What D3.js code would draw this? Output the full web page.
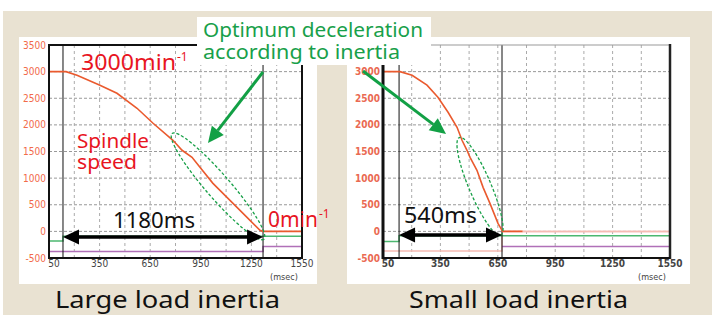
<!DOCTYPE html>
<html>
<head>
<meta charset="utf-8">
<script src="https://cdn.jsdelivr.net/npm/d3@7"></script>
<style>
  body { margin: 0; background: #fff; }
  svg { display: block; }
</style>
</head>
<body>
<svg id="chart" width="712" height="315"></svg>
<script>
// ---- data ----
var yTicks = [-500, 0, 500, 1000, 1500, 2000, 2500, 3000, 3500];
var xTicks = [50, 350, 650, 950, 1250, 1550];
var xGrid = [200, 350, 500, 650, 800, 950, 1100, 1250, 1400];

// spindle speed, large load inertia (ms, min-1)
var largeMs  = [50, 151, 216, 352, 453, 572, 667, 785, 839, 898, 945, 1022, 1141, 1224, 1301, 1319, 1550];
var largeRpm = [3000, 3000, 2930, 2745, 2594, 2312, 2030, 1710, 1523, 1390, 1203, 902, 526, 263, 19, 0, 0];
// spindle speed, small load inertia
var smallMs  = [50, 139, 202, 280, 337, 390, 437, 463, 489, 505, 541, 573, 609, 651, 672, 677, 780];
var smallRpm = [3000, 3000, 2930, 2745, 2520, 2237, 1955, 1711, 1523, 1390, 1147, 827, 526, 150, 19, 0, 0];

// cursors (start / stop of deceleration)
var largeCursor = [133, 1319];
var smallCursor = [134, 672];

// auxiliary signals (step levels)
var largeGreenMs = [50, 133, 133, 1550], largeGreenVal = [-180, -180, -90, -90];
var largePurpleMs = [50, 1319, 1319, 1550], largePurpleVal = [-376, -376, -282, -282];
var smallGreenMs = [50, 134, 134, 1550], smallGreenVal = [-190, -190, -80, -80];
var smallPinkMs = [50, 672, 672, 1550], smallPinkVal = [-370, -370, 0, 0];
var smallPurpleMs = [672, 1550], smallPurpleVal = [-285, -285];

var svg = d3.select("#chart");
var font = "'Noto Sans', 'Liberation Sans', sans-serif";
var tickFont = "'Liberation Sans Narrow', 'DejaVu Sans Condensed', sans-serif";

// background
svg.append("rect").attr("x", 3).attr("y", 11).attr("width", 709).attr("height", 304).attr("fill", "#e9e2d2");

function zip(a, b) { return a.map(function(v, i) { return [v, b[i]]; }); }

// text stretched to the width measured on the picture
function label(x, y, str, size, color, width) {
    var t = svg.append("text").attr("x", x).attr("y", y)
        .attr("font-family", font).attr("font-size", size).attr("fill", color)
        .text(str);
    if (width) t.attr("textLength", width).attr("lengthAdjust", "spacingAndGlyphs");
    return t;
}

function drawPanel(opt) {
    var g = svg.append("g");
    g.append("rect")
        .attr("x", opt.panel[0]).attr("y", opt.panel[1])
        .attr("width", opt.panel[2]).attr("height", opt.panel[3])
        .attr("fill", "#fff");

    var x = d3.scaleLinear().domain([50, 1550]).range(opt.xr);
    var y = d3.scaleLinear().domain([-500, 3500]).range([258, 45]);
    var line = d3.line().x(function(d) { return x(d[0]); }).y(function(d) { return y(d[1]); });

    // grid
    g.selectAll(".hg").data(yTicks.slice(1, -1)).enter().append("line")
        .attr("x1", opt.xr[0]).attr("x2", opt.xr[1])
        .attr("y1", function(d) { return y(d); }).attr("y2", function(d) { return y(d); })
        .attr("stroke", "#999").attr("stroke-width", 1).attr("stroke-dasharray", "3,2");
    g.selectAll(".vg").data(xGrid).enter().append("line")
        .attr("y1", 45).attr("y2", 258)
        .attr("x1", function(d) { return x(d); }).attr("x2", function(d) { return x(d); })
        .attr("stroke", "#aaa").attr("stroke-width", 1).attr("stroke-dasharray", "3,3");

    // y tick labels
    g.selectAll(".yl").data(yTicks).enter().append("text")
        .attr("x", opt.xr[0] - 3).attr("y", function(d) { return y(d) + 3.5; })
        .attr("text-anchor", "end")
        .attr("font-family", tickFont).attr("font-size", 10)
        .attr("font-weight", opt.boldTicks ? "bold" : "normal")
        .attr("fill", opt.tickColor)
        .text(function(d) { return opt.small && d === 3500 ? "" : d; });

    // x tick labels
    g.selectAll(".xl").data(xTicks).enter().append("text")
        .attr("x", function(d) { return x(d) + (d === 50 ? 5 : 0); })
        .attr("y", 267)
        .attr("text-anchor", "middle")
        .attr("font-family", tickFont).attr("font-size", 10)
        .attr("font-weight", opt.boldTicks ? "bold" : "normal")
        .attr("fill", "#444")
        .text(function(d) { return d; });
    g.append("text").attr("x", x(1550) - 18).attr("y", 280)
        .attr("text-anchor", "middle").attr("font-family", tickFont).attr("font-size", 9)
        .attr("fill", "#444").text("(msec)");

    // aux signals
    opt.aux.forEach(function(a) {
        g.append("path").attr("d", line(zip(a[0], a[1])))
            .attr("fill", "none").attr("stroke", a[2]).attr("stroke-width", 1.5);
    });

    // cursors
    g.selectAll(".cur").data(opt.cursor).enter().append("line")
        .attr("x1", function(d) { return x(d); }).attr("x2", function(d) { return x(d); })
        .attr("y1", 45).attr("y2", 258)
        .attr("stroke", "#111").attr("stroke-width", 1);

    // speed
    g.append("path").attr("d", line(zip(opt.ms, opt.rpm)))
        .attr("fill", "none").attr("stroke", "#ea5a2e").attr("stroke-width", 1.6);
    if (opt.small) {
        g.append("line").attr("x1", x(780)).attr("x2", x(1550))
            .attr("y1", y(0)).attr("y2", y(0)).attr("stroke", "#f6bcb4").attr("stroke-width", 1.5);
    }

    // frame
    if (opt.small) {
        g.append("line").attr("x1", opt.xr[0]).attr("x2", opt.xr[1]).attr("y1", 45).attr("y2", 45)
            .attr("stroke", "#999").attr("stroke-width", 1);
        g.append("line").attr("x1", opt.xr[0]).attr("x2", opt.xr[0]).attr("y1", 44).attr("y2", 259)
            .attr("stroke", "#111").attr("stroke-width", 3);
        g.append("line").attr("x1", opt.xr[1]).attr("x2", opt.xr[1]).attr("y1", 44).attr("y2", 259)
            .attr("stroke", "#222").attr("stroke-width", 2.5);
        g.append("line").attr("x1", opt.xr[0]).attr("x2", opt.xr[1]).attr("y1", 258).attr("y2", 258)
            .attr("stroke", "#111").attr("stroke-width", 2);
    } else {
        g.append("rect").attr("x", opt.xr[0]).attr("y", 45)
            .attr("width", opt.xr[1] - opt.xr[0]).attr("height", 213)
            .attr("fill", "none").attr("stroke", "#111").attr("stroke-width", 2);
    }

    // ellipse marking deceleration
    var ec = opt.ellipse;
    g.append("ellipse")
        .attr("cx", 0).attr("cy", 0).attr("rx", ec.rx).attr("ry", ec.ry)
        .attr("transform", "translate(" + x(ec.ms) + "," + y(ec.val) + ") rotate(" + ec.angle + ")")
        .attr("fill", "none").attr("stroke", "#18a048").attr("stroke-width", 1.3)
        .attr("stroke-dasharray", "3,2");

    // duration arrow
    var ay = opt.arrowY, x0 = x(opt.cursor[0]), x1 = x(opt.cursor[1]);
    g.append("line").attr("x1", x0 + 14).attr("x2", x1 - 14).attr("y1", ay).attr("y2", ay)
        .attr("stroke", "#000").attr("stroke-width", 3.5);
    g.append("path").attr("d", "M" + x0 + "," + ay + "l16,-7.5l0,15z").attr("fill", "#000");
    g.append("path").attr("d", "M" + x1 + "," + ay + "l-16,-7.5l0,15z").attr("fill", "#000");
    label(opt.durX, opt.durY, opt.durLabel, 21, "#111", opt.durW);

    // title
    label(opt.titleX, 308, opt.title, 23, "#111", opt.titleW);
    return { x: x, y: y };
}

drawPanel({
    panel: [19, 37, 298, 247], xr: [49, 302], tickColor: "#f26a4a",
    ms: largeMs, rpm: largeRpm, cursor: largeCursor,
    aux: [[largePurpleMs, largePurpleVal, "#b070b8"], [largeGreenMs, largeGreenVal, "#4cb870"]],
    ellipse: { ms: 1052, val: 846, rx: 70, ry: 12, angle: 49 },
    arrowY: 237, durX: 113, durY: 228, durLabel: "1180ms", durW: 82,
    title: "Large load inertia", titleX: 55, titleW: 225
});
drawPanel({
    panel: [347, 37, 343, 247], xr: [383, 670], tickColor: "#ea6a52", boldTicks: true, small: true,
    ms: smallMs, rpm: smallRpm, cursor: smallCursor,
    aux: [[smallPinkMs, smallPinkVal, "#f6bcb4"], [smallPurpleMs, smallPurpleVal, "#b070b8"], [smallGreenMs, smallGreenVal, "#4cb870"]],
    ellipse: { ms: 557, val: 846, rx: 53, ry: 11, angle: 67 },
    arrowY: 235, durX: 404, durY: 223, durLabel: "540ms", durW: 73,
    title: "Small load inertia", titleX: 409, titleW: 219
});

// red labels with superscript
function supLabel(x, y, main, mainW, sup) {
    var t = svg.append("text").attr("x", x).attr("y", y)
        .attr("font-family", font).attr("font-size", 21).attr("fill", "#e8151f");
    t.append("tspan").attr("textLength", mainW).attr("lengthAdjust", "spacingAndGlyphs").text(main);
    t.append("tspan").attr("font-size", 12).attr("dx", 1).attr("dy", -9).text(sup);
}
supLabel(81, 70, "3000min", 95, "-1");
supLabel(268, 227, "0min", 50, "-1");
label(77, 148, "Spindle", 20, "#e8151f", 72);
label(77, 169, "speed", 20, "#e8151f", 60);

// callout box
svg.append("rect").attr("x", 197).attr("y", 17).attr("width", 234).attr("height", 48).attr("fill", "#fff");
label(203, 37, "Optimum deceleration", 20, "#18a04a", 220);
label(203, 59, "according to inertia", 20, "#18a04a", 197);

// green pointer arrows
function greenArrow(x1, y1, x2, y2) {
    var ang = Math.atan2(y2 - y1, x2 - x1), len = 16, w = 7.5;
    var bx = x2 - len * Math.cos(ang), by = y2 - len * Math.sin(ang);
    svg.append("line").attr("x1", x1).attr("y1", y1).attr("x2", bx).attr("y2", by)
        .attr("stroke", "#12a045").attr("stroke-width", 3);
    svg.append("path").attr("fill", "#12a045")
        .attr("d", "M" + x2 + "," + y2 +
            "L" + (bx + w * Math.sin(ang)) + "," + (by - w * Math.cos(ang)) +
            "L" + (bx - w * Math.sin(ang)) + "," + (by + w * Math.cos(ang)) + "Z");
}
greenArrow(263, 72, 208, 143);
greenArrow(363, 71, 446, 134);
</script>
</body>
</html>
